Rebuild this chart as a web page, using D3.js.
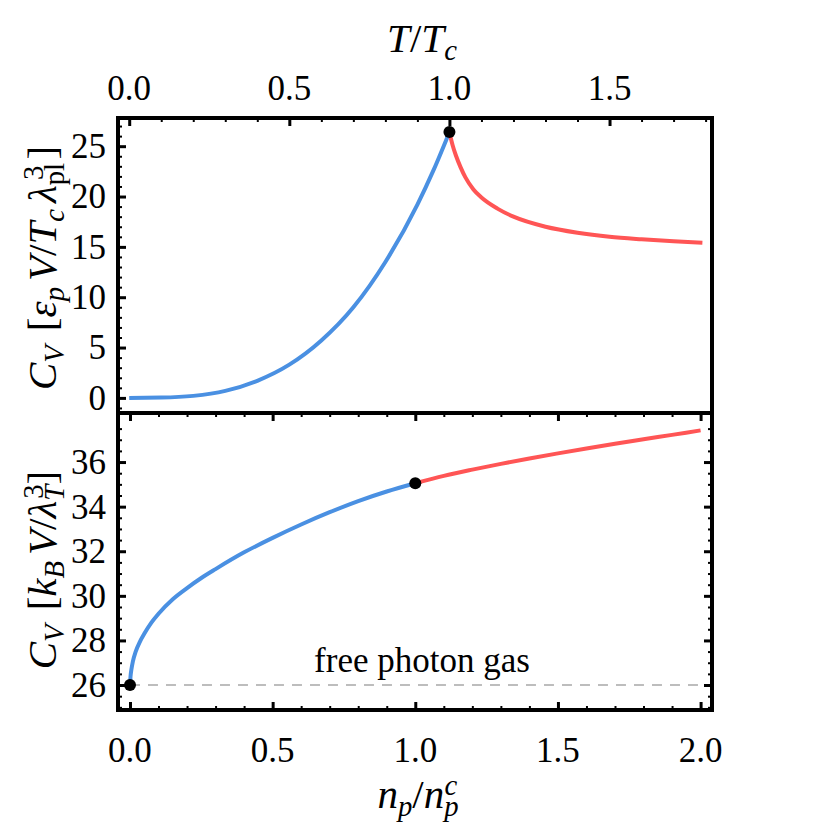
<!DOCTYPE html>
<html><head><meta charset="utf-8">
<script src="https://cdn.jsdelivr.net/npm/d3@7"></script>
<style>body{margin:0;background:#fff}svg{display:block}text{font-family:"Liberation Serif","Times New Roman",serif;fill:#000}</style>
</head><body><svg id="c" width="830" height="830"></svg>
<script>
// ---- data ----
const topBlueT = [0, 0.1, 0.2, 0.3, 0.4, 0.5, 0.6, 0.7, 0.8, 0.9, 0.95, 1.0];
const topBlueC = [0, 0.03, 0.2, 0.7, 1.7, 3.3, 5.7, 9.0, 13.5, 19.2, 22.6, 26.4];
const topRedT = [1.0, 1.01, 1.02, 1.035, 1.05, 1.075, 1.1, 1.15, 1.2, 1.3, 1.4, 1.5, 1.6, 1.7, 1.79];
const topRedC = [26.4, 25.1, 24.1, 22.9, 21.9, 20.7, 19.9, 18.8, 18.0, 17.0, 16.4, 16.0, 15.75, 15.55, 15.4];
const botBlueN = [0, 0.002, 0.005, 0.01, 0.02, 0.035, 0.05, 0.075, 0.1, 0.15, 0.2, 0.25, 0.3, 0.4, 0.5, 0.6, 0.7, 0.8, 0.9, 1.0];
const botBlueC = [26.0, 26.4, 26.7, 27.05, 27.5, 27.95, 28.3, 28.8, 29.2, 29.85, 30.35, 30.8, 31.2, 31.95, 32.6, 33.2, 33.75, 34.25, 34.68, 35.05];
const botRedN = [1.0, 1.1, 1.2, 1.3, 1.4, 1.5, 1.6, 1.7, 1.8, 1.9, 2.0];
const botRedC = [35.05, 35.38, 35.66, 35.92, 36.16, 36.39, 36.61, 36.82, 37.02, 37.22, 37.42];
const critTop = {T: 1.0, C: 26.4};
const critBot = [{n: 0, C: 26.0}, {n: 1.0, C: 35.05}];
const freeGasC = 26.0;
const topXTicks = [0, 0.5, 1.0, 1.5];
const topXLabels = ["0.0", "0.5", "1.0", "1.5"];
const topYTicks = [0, 5, 10, 15, 20, 25];
const botXTicks = [0, 0.5, 1.0, 1.5, 2.0];
const botXLabels = ["0.0", "0.5", "1.0", "1.5", "2.0"];
const botYTicks = [26, 28, 30, 32, 34, 36];

// ---- layout ----
const L = 118, R = 712, T0 = 118, MID = 413, B = 710;
const svg = d3.select("#c");
const xT = d3.scaleLinear().domain([-0.035, 1.82]).range([L, R]);
const xN = d3.scaleLinear().domain([-0.042, 2.04]).range([L, R]);
const yTop = d3.scaleLinear().domain([-1.5, 27.8]).range([MID, T0]);
const yBot = d3.scaleLinear().domain([24.88, 38.2]).range([B, MID]);

const blue = "#4a90e2", red = "#ff5555";
const FONT = "Liberation Serif";

function minors(lo, hi, step) { const a = []; for (let v = Math.ceil(lo / step - 1e-9); v * step <= hi + 1e-9; v++) a.push(+(v * step).toFixed(6)); return a; }

function ticks(axisFn, scale, values, size, width, tx, ty) {
  const g = svg.append("g").attr("transform", `translate(${tx},${ty})`)
    .call(axisFn(scale).tickValues(values).tickSize(size).tickFormat(""));
  g.select(".domain").remove();
  g.selectAll("line").attr("stroke", "#000").attr("stroke-width", width);
}
const notHalf = v => Math.abs(v * 2 - Math.round(v * 2)) > 1e-6;

// top panel ticks: left & top
ticks(d3.axisLeft, yTop, topYTicks, -8, 3, L, 0);
ticks(d3.axisLeft, yTop, minors(-1.4, 27.7, 1).filter(v => v % 5 !== 0), -4, 2, L, 0);
ticks(d3.axisTop, xT, topXTicks, -8, 3, 0, T0);
ticks(d3.axisTop, xT, minors(-0.03, 1.81, 0.1).filter(notHalf), -4, 2, 0, T0);

// bottom panel ticks: all sides
const bxMin = minors(-0.04, 2.03, 0.1).filter(notHalf);
const byMin = minors(24.9, 38.1, 0.5).filter(v => v % 2 !== 0);
ticks(d3.axisBottom, xN, botXTicks, -8, 3, 0, B);
ticks(d3.axisBottom, xN, bxMin, -4, 2, 0, B);
ticks(d3.axisTop, xN, botXTicks, -8, 3, 0, MID);
ticks(d3.axisTop, xN, bxMin, -4, 2, 0, MID);
ticks(d3.axisLeft, yBot, botYTicks, -8, 3, L, 0);
ticks(d3.axisLeft, yBot, byMin, -4, 2, L, 0);
ticks(d3.axisRight, yBot, botYTicks, -8, 3, R, 0);
ticks(d3.axisRight, yBot, byMin, -4, 2, R, 0);

// dashed free photon gas line
svg.append("line").attr("x1", xN(0)).attr("x2", xN(2.0)).attr("y1", yBot(freeGasC)).attr("y2", yBot(freeGasC))
  .attr("stroke", "#a8a8a8").attr("stroke-width", 1.6).attr("stroke-dasharray", "10,8");
svg.append("text").attr("x", 422).attr("y", yBot(freeGasC) - 13).attr("text-anchor", "middle")
  .attr("font-family", FONT).attr("font-size", 35).text("free photon gas");

// curves
const lineTop = d3.line().x(d => xT(d[0])).y(d => yTop(d[1])).curve(d3.curveMonotoneX);
const lineBot = d3.line().x(d => xN(d[0])).y(d => yBot(d[1])).curve(d3.curveMonotoneX);
svg.append("path").attr("d", lineTop(d3.zip(topBlueT, topBlueC))).attr("fill", "none").attr("stroke", blue).attr("stroke-width", 4);
svg.append("path").attr("d", lineTop(d3.zip(topRedT, topRedC))).attr("fill", "none").attr("stroke", red).attr("stroke-width", 4);
svg.append("path").attr("d", lineBot(d3.zip(botBlueN, botBlueC))).attr("fill", "none").attr("stroke", blue).attr("stroke-width", 4);
svg.append("path").attr("d", lineBot(d3.zip(botRedN, botRedC))).attr("fill", "none").attr("stroke", red).attr("stroke-width", 4);

// critical points
svg.append("circle").attr("cx", xT(critTop.T)).attr("cy", yTop(critTop.C)).attr("r", 6).attr("fill", "#000");
critBot.forEach(p => svg.append("circle").attr("cx", xN(p.n)).attr("cy", yBot(p.C)).attr("r", 6).attr("fill", "#000"));

// frames
svg.append("rect").attr("x", L).attr("y", T0).attr("width", R - L).attr("height", MID - T0).attr("fill", "none").attr("stroke", "#000").attr("stroke-width", 4);
svg.append("rect").attr("x", L).attr("y", MID).attr("width", R - L).attr("height", B - MID).attr("fill", "none").attr("stroke", "#000").attr("stroke-width", 4);

// tick labels
const FS = 35;
function lab(x, y, s, anchor, dy) {
  return svg.append("text").attr("x", x).attr("y", y).attr("dy", dy || 0).attr("text-anchor", anchor)
    .attr("font-family", FONT).attr("font-size", FS).text(s);
}
topXTicks.forEach((v, i) => lab(xT(v), 100, topXLabels[i], "middle"));
botXTicks.forEach((v, i) => lab(xN(v), 762, botXLabels[i], "middle"));
topYTicks.forEach(v => lab(106, yTop(v), v, "end", "0.34em"));
botYTicks.forEach(v => lab(106, yBot(v), v, "end", "0.34em"));

// axis titles
function rich(t, parts, fs) {
  parts.forEach(p => {
    const s = t.append("tspan").text(p.t);
    if (p.i) s.attr("font-style", "italic");
    if (p.sub) s.attr("baseline-shift", "-28%").attr("font-size", fs * 0.7);
    if (p.sup) s.attr("baseline-shift", "45%").attr("font-size", fs * 0.7);
    if (p.dx) s.attr("dx", p.dx);
  });
}
const TF = 41;
let t = svg.append("text").attr("x", 422).attr("y", 52).attr("text-anchor", "middle").attr("font-family", FONT).attr("font-size", TF);
rich(t, [{t: "T", i: 1}, {t: "/"}, {t: "T", i: 1}, {t: "c", i: 1, sub: 1}], TF);
t = svg.append("text").attr("x", 418).attr("y", 808).attr("text-anchor", "middle").attr("font-family", FONT).attr("font-size", TF);
rich(t, [{t: "n", i: 1}, {t: "p", i: 1, sub: 1}, {t: "/"}, {t: "n", i: 1}, {t: "p", i: 1, sub: 1}, {t: "c", i: 1, sup: 1, dx: -14}], TF);
t = svg.append("text").attr("transform", "translate(56,268) rotate(-90)").attr("text-anchor", "middle").attr("font-family", FONT).attr("font-size", TF);
rich(t, [{t: "C", i: 1}, {t: "V", i: 1, sub: 1}, {t: "[", dx: 14}, {t: "ε", i: 1}, {t: "p", i: 1, sub: 1}, {t: "V", i: 1, dx: 6}, {t: "/"}, {t: "T", i: 1}, {t: "c", i: 1, sub: 1}, {t: "λ", i: 1, dx: 6}, {t: "pl", sub: 1}, {t: "3", sup: 1, dx: -17}, {t: "]", dx: 6}], TF);
t = svg.append("text").attr("transform", "translate(56,570) rotate(-90)").attr("text-anchor", "middle").attr("font-family", FONT).attr("font-size", TF);
rich(t, [{t: "C", i: 1}, {t: "V", i: 1, sub: 1}, {t: "[", dx: 14}, {t: "k", i: 1}, {t: "B", i: 1, sub: 1}, {t: "V", i: 1, dx: 6}, {t: "/"}, {t: "λ", i: 1}, {t: "T", i: 1, sub: 1}, {t: "3", sup: 1, dx: -14}, {t: "]"}], TF);
</script></body></html>
